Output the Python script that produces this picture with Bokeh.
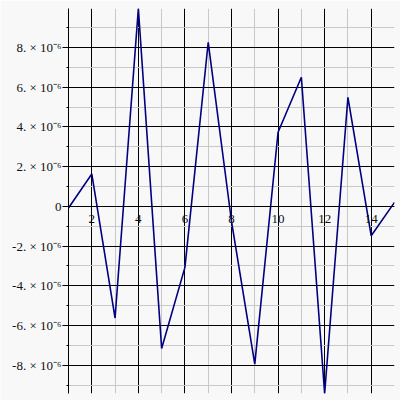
from bokeh.plotting import figure
from bokeh.models import FixedTicker, Range1d
from bokeh.embed import file_html
from bokeh.resources import INLINE

# data
x_values = [1, 2, 3, 4, 5, 6, 7, 8, 9, 10, 11, 12, 13, 14, 15]
y_values = [-0.08e-6, 1.63e-6, -5.62e-6, 9.96e-6, -7.15e-6, -3.07e-6, 8.26e-6,
            -0.75e-6, -7.94e-6, 3.73e-6, 6.50e-6, -9.42e-6, 5.49e-6, -1.48e-6, 0.20e-6]

x_major_ticks = [2, 4, 6, 8, 10, 12, 14]
x_minor_ticks = [1, 3, 5, 7, 9, 11, 13, 15]
y_major_ticks = [-8e-6, -6e-6, -4e-6, -2e-6, 0, 2e-6, 4e-6, 6e-6, 8e-6]
y_major_labels = ["-8. × 10⁻⁶", "-6. × 10⁻⁶", "-4. × 10⁻⁶", "-2. × 10⁻⁶", "0",
                  "2. × 10⁻⁶", "4. × 10⁻⁶", "6. × 10⁻⁶", "8. × 10⁻⁶"]
y_minor_ticks = [-9e-6, -7e-6, -5e-6, -3e-6, -1e-6, 1e-6, 3e-6, 5e-6, 7e-6, 9e-6]

BG = "#f8f8f8"
FONT = "Liberation Serif"

p = figure(width=400, height=400, output_backend="svg", toolbar_location=None,
           x_range=Range1d(min(x_values), max(x_values)),
           y_range=Range1d(min(y_values), max(y_values)),
           min_border_left=68, min_border_right=6, min_border_top=8, min_border_bottom=7)
p.background_fill_color = BG
p.border_fill_color = BG
p.outline_line_color = None

xt = FixedTicker(ticks=x_major_ticks, minor_ticks=x_minor_ticks)
yt = FixedTicker(ticks=y_major_ticks, minor_ticks=y_minor_ticks)

xa = p.xaxis[0]
xa.fixed_location = 0
xa.ticker = xt
xa.axis_line_color = "black"
xa.major_tick_in = 0
xa.major_tick_out = 0
xa.minor_tick_in = 0
xa.minor_tick_out = 0
xa.major_label_standoff = 9
xa.major_label_text_font = FONT
xa.major_label_text_font_size = "13px"
xa.major_label_text_color = "#111111"

ya = p.yaxis[0]
ya.ticker = yt
ya.axis_line_color = "black"
ya.major_tick_in = 0
ya.major_tick_out = 6
ya.minor_tick_in = 0
ya.minor_tick_out = 2
ya.major_tick_line_color = "black"
ya.minor_tick_line_color = "black"
ya.major_label_standoff = 1
ya.major_label_overrides = {t: lab for t, lab in zip(y_major_ticks, y_major_labels)}
ya.major_label_text_font = FONT
ya.major_label_text_font_size = "13px"
ya.major_label_text_color = "#111111"

p.xgrid.ticker = xt
p.ygrid.ticker = yt
for g in (p.xgrid[0], p.ygrid[0]):
    g.grid_line_color = "black"
    g.grid_line_width = 1
    g.minor_grid_line_color = "#c8c8c8"
    g.minor_grid_line_width = 1

p.line(x_values, y_values, line_color="#000080", line_width=1.6)

open("out.html", "w").write(file_html(p, INLINE))
